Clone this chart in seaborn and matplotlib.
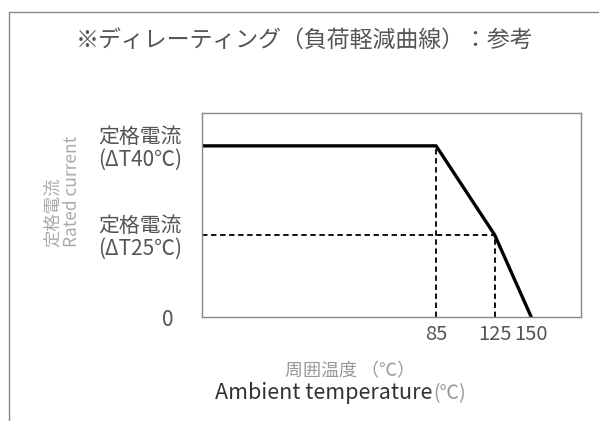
import pandas as pd
import seaborn as sns
import matplotlib.pyplot as plt
from matplotlib.lines import Line2D

# Schematic derating curve (relative current vs ambient temperature)
temps = [-75, 85, 125, 150]
current = [1.0, 1.0, 0.48, 0.0]

tick_temps = [85, 125, 150]
tick_temp_labels = ["85", "125", "150"]
tick_currents = [0.0, 0.48, 1.0]
tick_current_labels = ["0  ", "定格電流\n(ΔT25℃)", "定格電流\n(ΔT40℃)"]

title = "※ディレーティング（負荷軽減曲線）：参考"

sns.set_style("white")
plt.rcParams['font.family'] = ['Noto Sans CJK JP', 'DejaVu Sans']

fig = plt.figure(figsize=(5.99, 4.21), dpi=100)
ax = fig.add_axes([0.337, 0.247, 0.633, 0.485])

df = pd.DataFrame({"temp": temps, "current": current})
sns.lineplot(data=df, x="temp", y="current", color="black", linewidth=2.4,
             sort=False, ax=ax)

# guide lines
dash = (0, (3, 2))
ax.plot([85, 85], [0, current[1]], color="black", lw=1.3, linestyle=dash)
ax.plot([125, 125], [0, current[2]], color="black", lw=1.3, linestyle=dash)
ax.plot([temps[0], 125], [current[2], current[2]], color="black", lw=1.3,
        linestyle=dash)

ax.set_xlim(-75, 184)
ax.set_ylim(0, 1.193)

ax.set_xticks(tick_temps)
ax.set_xticklabels(tick_temp_labels, fontsize=14.5, color="#555555")
ax.set_yticks(tick_currents)
ax.set_yticklabels(tick_current_labels, fontsize=15, color="#555555",
                   multialignment="left", linespacing=1.0)
ax.tick_params(axis="both", length=0)
ax.tick_params(axis="x", pad=5)
ax.tick_params(axis="y", pad=14)
ax.set_xlabel("")
ax.set_ylabel("")

for s in ax.spines.values():
    s.set_color("#888888")
    s.set_linewidth(1.0)

fig.text(0.509, 0.905, title, ha="center", va="center", fontsize=16.5,
         color="#555555")

fig.text(0.104, 0.546, "定格電流\nRated current", rotation=90, ha="center",
         va="center", fontsize=12.5, color="#aaaaaa", multialignment="left",
         linespacing=1.1)

fig.text(0.585, 0.119, "周囲温度 （℃）", ha="center", va="center",
         fontsize=13, color="#999999")
t = fig.text(0.359, 0.066, "Ambient temperature", ha="left", va="center",
             fontsize=15.5, color="#333333")
fig.canvas.draw()
bb = t.get_window_extent()
fig.text(bb.x1 / fig.bbox.width + 0.002, 0.066, "(℃)", ha="left",
         va="center", fontsize=14, color="#999999")

# outer frame (left and top edges)
fig.add_artist(Line2D([9 / 599, 9 / 599], [0, 1 - 12 / 421],
                      transform=fig.transFigure, color="#888888", lw=1.0))
fig.add_artist(Line2D([9 / 599, 1], [1 - 12 / 421, 1 - 12 / 421],
                      transform=fig.transFigure, color="#888888", lw=1.0))

fig.savefig("out.png", dpi=100)
